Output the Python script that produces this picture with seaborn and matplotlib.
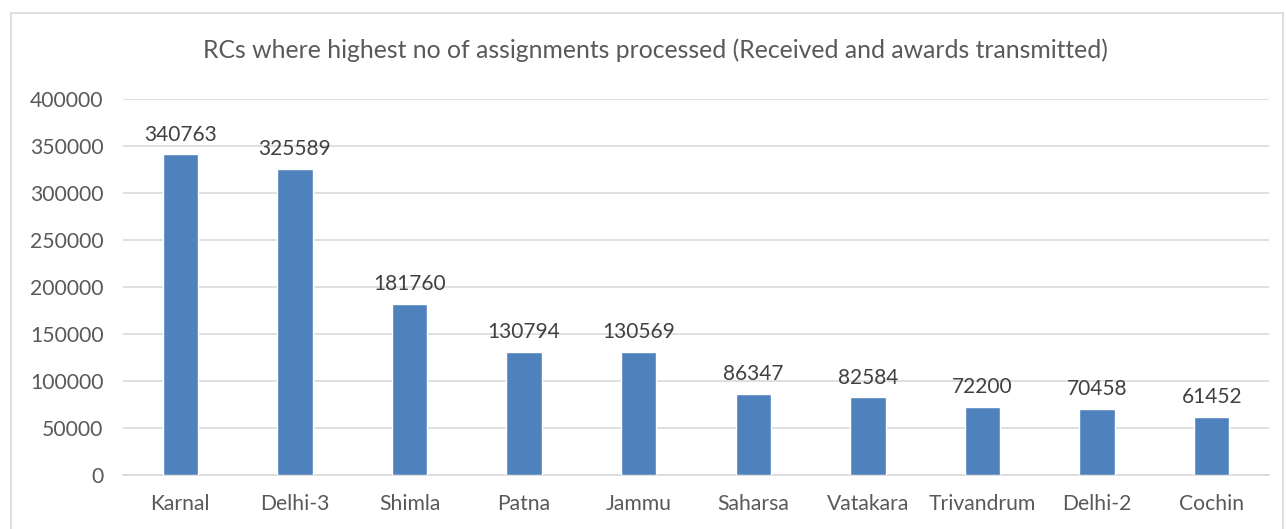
import matplotlib
matplotlib.use("Agg")
import matplotlib.pyplot as plt
import seaborn as sns
import pandas as pd
from matplotlib.patches import Rectangle

categories = ["Karnal", "Delhi-3", "Shimla", "Patna", "Jammu", "Saharsa",
              "Vatakara", "Trivandrum", "Delhi-2", "Cochin"]
values = [340763, 325589, 181760, 130794, 130569, 86347, 82584, 72200, 70458, 61452]
yticks = [0, 50000, 100000, 150000, 200000, 250000, 300000, 350000, 400000]
title = "RCs where highest no of assignments processed (Received and awards transmitted)"

sns.set_theme(style="white")
plt.rcParams['font.family'] = ['Lato', 'DejaVu Sans']

df = pd.DataFrame({"RC": categories, "Count": values})
text_color = "#595959"

fig = plt.figure(figsize=(12.86, 5.29), dpi=100)
ax = fig.add_axes([123/1286, 1 - 475/529, (1269 - 123)/1286, (475 - 98.7)/529])

sns.barplot(data=df, x="RC", y="Count", color="#4F81BD", saturation=1,
            width=0.31, ax=ax, zorder=3)

ax.set_ylim(0, 400000)
ax.set_xlim(-0.5, len(categories) - 0.5)
ax.set_yticks(yticks)
ax.set_yticklabels([str(t) for t in yticks])
ax.yaxis.grid(True, color="#D9D9D9", linewidth=1.2, zorder=0)
ax.set_axisbelow(True)
for s in ["top", "right", "left"]:
    ax.spines[s].set_visible(False)
ax.spines["bottom"].set_color("#D9D9D9")
ax.spines["bottom"].set_linewidth(1.2)
ax.set_xlabel("")
ax.set_ylabel("")
ax.tick_params(axis="both", length=0, labelsize=15.2, colors=text_color)
ax.tick_params(axis="x", pad=14)
ax.tick_params(axis="y", pad=14)

for i, v in enumerate(values):
    ax.annotate(str(v), (i, v), xytext=(0, 7), textcoords="offset points",
                ha="center", va="bottom", fontsize=15, color="#404040")

fig.text(655/1286, 1 - 50/529, title, ha="center", va="center", fontsize=17.8, color=text_color)

fig.patches.append(Rectangle((11/1286, -0.05), (1283 - 11)/1286, 1 - 13/529 + 0.05,
                             transform=fig.transFigure, fill=False,
                             edgecolor="#D9D9D9", linewidth=1.2))

fig.savefig("out.png", dpi=100)
